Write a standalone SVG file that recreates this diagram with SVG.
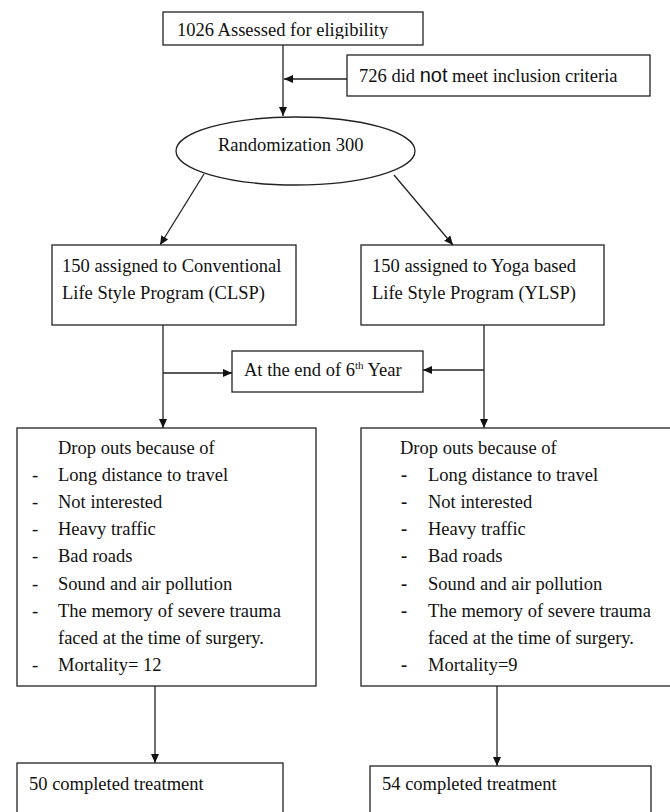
<svg xmlns="http://www.w3.org/2000/svg" width="670" height="812" viewBox="0 0 670 812">
<style>
.box{fill:#fff;stroke:#222;stroke-width:1.3}
.t{font-family:"Liberation Serif","Times New Roman",serif;font-size:18.5px;fill:#111}
.b{font-weight:bold}
.ln{stroke:#222;stroke-width:1.3;fill:none}
</style>
<defs>
<marker id="ah" markerWidth="10" markerHeight="10" refX="9" refY="5" orient="auto" markerUnits="userSpaceOnUse">
<path d="M0,1 L9,5 L0,9 Z" fill="#111"/>
</marker>
<clipPath id="c1"><rect x="163" y="12" width="260" height="27"/></clipPath>
</defs>
<rect width="670" height="812" fill="#fff"/>
<g id="connectors">
<line class="ln" x1="283" y1="45" x2="283" y2="116" marker-end="url(#ah)"/>
<line class="ln" x1="347" y1="79" x2="284" y2="79" marker-end="url(#ah)"/>
<line class="ln" x1="204" y1="174" x2="160" y2="245" marker-end="url(#ah)"/>
<line class="ln" x1="394" y1="175" x2="453" y2="245" marker-end="url(#ah)"/>
<line class="ln" x1="163" y1="325" x2="163" y2="428" marker-end="url(#ah)"/>
<line class="ln" x1="163" y1="373" x2="232" y2="373" marker-end="url(#ah)"/>
<line class="ln" x1="484" y1="325" x2="484" y2="428" marker-end="url(#ah)"/>
<line class="ln" x1="484" y1="370" x2="423" y2="370" marker-end="url(#ah)"/>
<line class="ln" x1="155" y1="686" x2="155" y2="763" marker-end="url(#ah)"/>
<line class="ln" x1="497" y1="686" x2="497" y2="766" marker-end="url(#ah)"/>
</g>
<g id="assessed">
<rect class="box" x="163" y="12" width="260" height="33"/>
<text class="t" x="177" y="36" clip-path="url(#c1)">1026 Assessed for eligibility</text>
</g>
<g id="excluded">
<rect class="box" x="347" y="55" width="303" height="41"/>
<text class="t" x="359" y="82">726 did <tspan style="font-family:'Liberation Sans',Arial,sans-serif;font-size:20px">not</tspan> meet inclusion criteria</text>
</g>
<g id="randomization">
<ellipse class="box" cx="295.5" cy="151" rx="119.5" ry="34"/>
<text class="t" x="218" y="151">Randomization 300</text>
</g>
<g id="clsp">
<rect class="box" x="52" y="245" width="244" height="80"/>
<text class="t" x="62" y="272">150 assigned to Conventional</text>
<text class="t" x="62" y="299">Life Style Program (CLSP)</text>
</g>
<g id="ylsp">
<rect class="box" x="361" y="245" width="243" height="80"/>
<text class="t" x="372" y="272">150 assigned to Yoga based</text>
<text class="t" x="372" y="299">Life Style Program (YLSP)</text>
</g>
<g id="sixth-year">
<rect class="box" x="232" y="351" width="191" height="41"/>
<text class="t" x="244" y="376">At the end of 6<tspan dy="-7" style="font-size:11px">th</tspan><tspan dy="7"> Year</tspan></text>
</g>
<g id="dropouts-clsp">
<rect class="box" x="17" y="428" width="299" height="258"/>
<text class="t" x="58" y="454">Drop outs because of</text>
<text class="t" x="32" y="481">-</text><text class="t" x="58" y="481">Long distance to travel</text>
<text class="t" x="32" y="508">-</text><text class="t" x="58" y="508">Not interested</text>
<text class="t" x="32" y="535">-</text><text class="t" x="58" y="535">Heavy traffic</text>
<text class="t" x="32" y="562">-</text><text class="t" x="58" y="562">Bad roads</text>
<text class="t" x="32" y="590">-</text><text class="t" x="58" y="590">Sound and air pollution</text>
<text class="t" x="32" y="617">-</text><text class="t" x="58" y="617">The memory of severe trauma</text>
<text class="t" x="58" y="644">faced at the time of surgery.</text>
<text class="t" x="32" y="671">-</text><text class="t" x="58" y="671">Mortality= 12</text>
</g>
<g id="dropouts-ylsp">
<rect class="box" x="361" y="428" width="320" height="258"/>
<text class="t" x="400" y="454">Drop outs because of</text>
<text class="t b" x="401" y="481">-</text><text class="t" x="428" y="481">Long distance to travel</text>
<text class="t b" x="401" y="508">-</text><text class="t" x="428" y="508">Not interested</text>
<text class="t b" x="401" y="535">-</text><text class="t" x="428" y="535">Heavy traffic</text>
<text class="t b" x="401" y="562">-</text><text class="t" x="428" y="562">Bad roads</text>
<text class="t b" x="401" y="590">-</text><text class="t" x="428" y="590">Sound and air pollution</text>
<text class="t b" x="401" y="617">-</text><text class="t" x="428" y="617">The memory of severe trauma</text>
<text class="t" x="428" y="644">faced at the time of surgery.</text>
<text class="t b" x="401" y="671">-</text><text class="t" x="428" y="671">Mortality=9</text>
</g>
<g id="completed-clsp">
<rect class="box" x="17" y="763" width="266" height="70"/>
<text class="t" x="29" y="790">50 completed treatment</text>
</g>
<g id="completed-ylsp">
<rect class="box" x="370" y="766" width="281" height="70"/>
<text class="t" x="382" y="790">54 completed treatment</text>
</g>
</svg>
